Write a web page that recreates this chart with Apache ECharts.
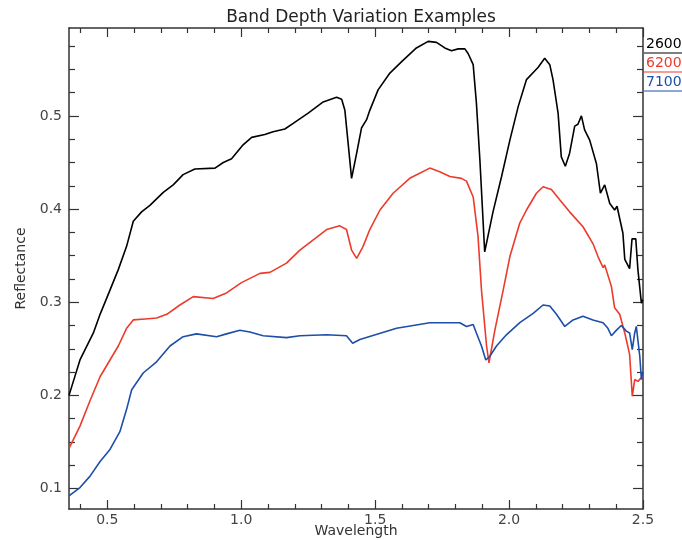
<!DOCTYPE html>
<html>
<head>
<meta charset="utf-8">
<script src="https://cdn.jsdelivr.net/npm/echarts@6/dist/echarts.min.js"></script>
<style>html,body{margin:0;padding:0;background:#fff}#c{width:682px;height:540px}</style>
</head>
<body>
<div id="c"></div>
<script>
var seriesNames = ['2600', '6200', '7100'];
var wl2600 = [0.357,0.398,0.448,0.473,0.510,0.541,0.572,0.597,0.628,0.659,0.709,0.746,0.783,0.827,0.902,0.933,0.964,1.007,1.039,1.088,1.119,1.163,1.194,1.250,1.306,1.356,1.375,1.387,1.412,1.431,1.449,1.468,1.480,1.511,1.555,1.598,1.654,1.698,1.729,1.760,1.785,1.810,1.835,1.847,1.866,1.878,1.891,1.909,1.940,1.972,2.003,2.034,2.065,2.108,2.133,2.139,2.152,2.164,2.183,2.195,2.210,2.226,2.245,2.257,2.270,2.282,2.301,2.326,2.341,2.357,2.376,2.394,2.403,2.425,2.432,2.450,2.459,2.473,2.481,2.494,2.499];
var refl2600 = [0.200,0.238,0.267,0.287,0.313,0.335,0.360,0.387,0.397,0.404,0.418,0.426,0.437,0.443,0.444,0.450,0.454,0.469,0.477,0.480,0.483,0.486,0.492,0.503,0.515,0.520,0.518,0.506,0.433,0.460,0.487,0.496,0.506,0.528,0.546,0.558,0.573,0.580,0.579,0.573,0.570,0.572,0.572,0.567,0.555,0.514,0.453,0.354,0.397,0.435,0.474,0.510,0.539,0.552,0.562,0.564,0.555,0.539,0.503,0.456,0.446,0.460,0.489,0.491,0.500,0.485,0.474,0.449,0.417,0.426,0.406,0.399,0.403,0.374,0.346,0.336,0.368,0.368,0.335,0.299,0.303];
var wl6200 = [0.357,0.398,0.435,0.473,0.510,0.541,0.572,0.597,0.641,0.684,0.722,0.771,0.821,0.895,0.945,1.001,1.070,1.107,1.169,1.219,1.269,1.319,1.368,1.393,1.412,1.431,1.455,1.480,1.518,1.567,1.629,1.704,1.741,1.779,1.822,1.841,1.866,1.884,1.897,1.916,1.925,1.947,1.978,2.003,2.040,2.065,2.102,2.127,2.158,2.189,2.226,2.276,2.313,2.332,2.351,2.357,2.382,2.394,2.413,2.432,2.450,2.460,2.469,2.481,2.494,2.499];
var refl6200 = [0.143,0.167,0.194,0.220,0.238,0.253,0.272,0.281,0.282,0.283,0.287,0.297,0.306,0.304,0.310,0.321,0.331,0.332,0.342,0.356,0.367,0.378,0.382,0.378,0.356,0.347,0.360,0.378,0.399,0.417,0.433,0.444,0.440,0.435,0.433,0.430,0.413,0.371,0.313,0.253,0.235,0.270,0.313,0.349,0.385,0.399,0.417,0.424,0.421,0.410,0.397,0.381,0.363,0.349,0.337,0.340,0.317,0.294,0.287,0.267,0.244,0.199,0.217,0.215,0.219,0.221];
var wl7100 = [0.357,0.398,0.435,0.473,0.510,0.547,0.572,0.591,0.634,0.684,0.734,0.783,0.833,0.908,0.945,0.995,1.032,1.082,1.169,1.219,1.319,1.393,1.416,1.443,1.580,1.704,1.741,1.816,1.841,1.866,1.878,1.897,1.913,1.928,1.953,1.990,2.040,2.090,2.127,2.152,2.177,2.208,2.239,2.276,2.313,2.351,2.369,2.382,2.401,2.419,2.438,2.450,2.460,2.469,2.475,2.488,2.494,2.499];
var refl7100 = [0.092,0.101,0.113,0.129,0.142,0.161,0.185,0.206,0.224,0.236,0.253,0.263,0.266,0.263,0.266,0.270,0.268,0.264,0.262,0.264,0.265,0.264,0.256,0.260,0.272,0.278,0.278,0.278,0.274,0.276,0.267,0.253,0.238,0.242,0.253,0.265,0.278,0.288,0.297,0.296,0.287,0.274,0.281,0.285,0.281,0.278,0.272,0.264,0.270,0.275,0.269,0.267,0.249,0.267,0.274,0.242,0.217,0.225];
var xMajorTicks = [0.5, 1.0, 1.5, 2.0, 2.5];
var xMinorTicks = [0.4,0.6,0.7,0.8,0.9,1.1,1.2,1.3,1.4,1.6,1.7,1.8,1.9,2.1,2.2,2.3,2.4];
var yMajorTicks = [0.1, 0.2, 0.3, 0.4, 0.5];
var yMinorTicks = [0.125,0.15,0.175,0.225,0.25,0.275,0.325,0.35,0.375,0.425,0.45,0.475,0.525,0.55,0.575];

function pairs(xs, ys) { return xs.map(function (x, i) { return [x, ys[i]]; }); }

var FONT = 'DejaVu Sans';
var AX = '#333';
var XMIN = 0.357, XMAX = 2.5, YMIN = 0.078, YMAX = 0.5944;

function xAx(pos, ticks, len, labels, showLine) {
  return {
    type: 'value', position: pos, min: XMIN, max: XMAX,
    axisLine: { show: showLine, onZero: false, lineStyle: { color: AX, width: 1.5 } },
    axisTick: { show: true, inside: true, length: len, customValues: ticks, lineStyle: { color: AX, width: 1.2 } },
    axisLabel: labels ? { show: true, customValues: ticks, formatter: function (v) { return v.toFixed(1); },
      color: '#444', fontFamily: FONT, fontSize: 14, margin: 4, hideOverlap: false } : { show: false },
    splitLine: { show: false },
    name: labels ? 'Wavelength' : '', nameLocation: 'middle', nameGap: 15, nameMoveOverlap: false,
    nameTextStyle: { color: '#333', fontFamily: FONT, fontSize: 14 }
  };
}
function yAx(pos, ticks, len, labels, showLine) {
  return {
    type: 'value', position: pos, min: YMIN, max: YMAX,
    axisLine: { show: showLine, onZero: false, lineStyle: { color: AX, width: 1.5 } },
    axisTick: { show: true, inside: true, length: len, customValues: ticks, lineStyle: { color: AX, width: 1.2 } },
    axisLabel: labels ? { show: true, customValues: ticks, formatter: function (v) { return v.toFixed(1); },
      color: '#444', fontFamily: FONT, fontSize: 14, margin: 7, hideOverlap: false } : { show: false },
    splitLine: { show: false },
    name: labels ? 'Reflectance' : '', nameLocation: 'middle', nameGap: 41, nameRotate: 90, nameMoveOverlap: false,
    nameTextStyle: { color: '#333', fontFamily: FONT, fontSize: 14 }
  };
}

var colors = ['#000000', '#ec3b2b', '#1d4ea8'];
var datas = [pairs(wl2600, refl2600), pairs(wl6200, refl6200), pairs(wl7100, refl7100)];

var legendGraphics = [];
seriesNames.forEach(function (n, i) {
  var y = 37 + i * 19;
  legendGraphics.push({ type: 'text', left: 646, top: y, style: { text: n, fill: colors[i], font: '14px ' + FONT } });
  legendGraphics.push({ type: 'line', shape: { x1: 644, y1: y + 16, x2: 682, y2: y + 16 }, style: { stroke: colors[i], lineWidth: 1.2 } });
});

var chart = echarts.init(document.getElementById('c'), null, { renderer: 'canvas' });
chart.setOption({
  animation: false,
  backgroundColor: '#fff',
  title: { text: 'Band Depth Variation Examples', left: 356, top: 4, textAlign: 'center',
    textStyle: { fontFamily: FONT, fontWeight: 'normal', fontSize: 17, color: '#222' } },
  grid: { left: 69, top: 28, right: 39, bottom: 31, containLabel: false, outerBoundsMode: 'none' },
  xAxis: [xAx('bottom', xMajorTicks, 9, true, true), xAx('bottom', xMinorTicks, 5, false, false),
          xAx('top', xMajorTicks, 9, false, true), xAx('top', xMinorTicks, 5, false, false)],
  yAxis: [yAx('left', yMajorTicks, 10, true, true), yAx('left', yMinorTicks, 6, false, false),
          yAx('right', yMajorTicks, 10, false, true), yAx('right', yMinorTicks, 6, false, false)],
  series: datas.map(function (d, i) {
    return { name: seriesNames[i], type: 'line', data: d, showSymbol: false, xAxisIndex: 0, yAxisIndex: 0,
      lineStyle: { color: colors[i], width: 1.6 }, itemStyle: { color: colors[i] } };
  }),
  graphic: legendGraphics
});
</script>
</body>
</html>
